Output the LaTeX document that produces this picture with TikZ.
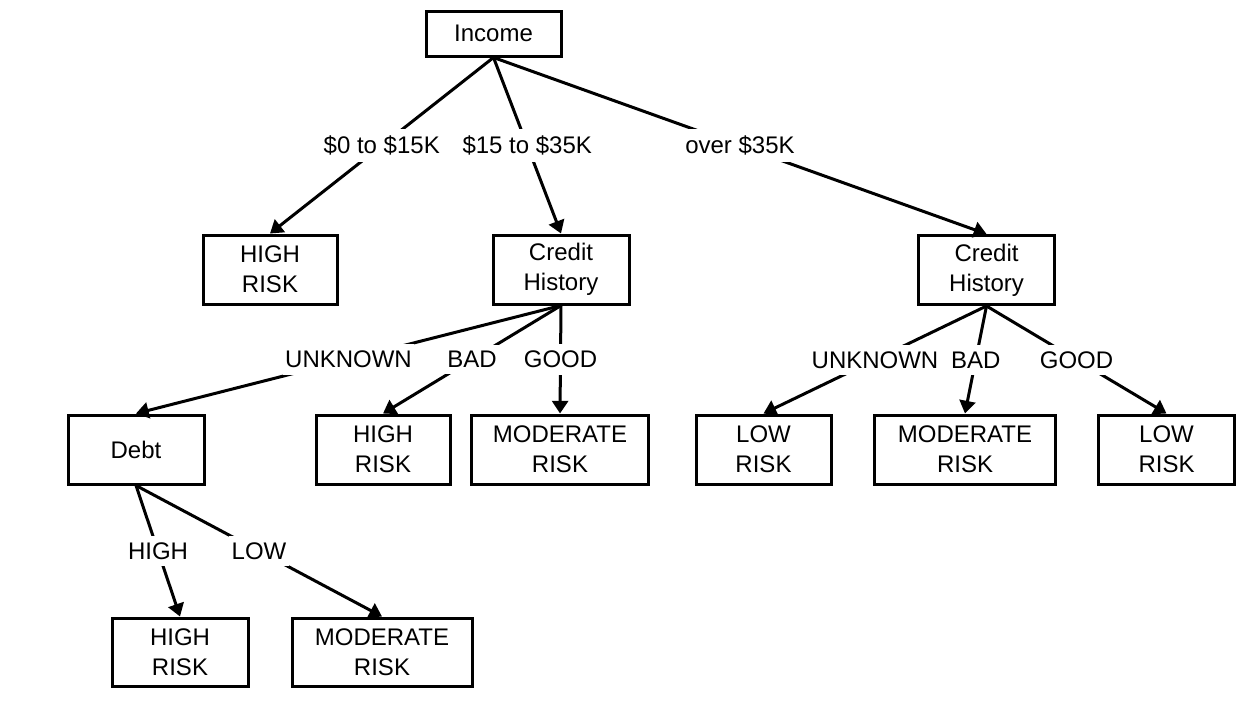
\documentclass[tikz,border=0pt]{standalone}
\usepackage{fontspec}
\setmainfont{Liberation Sans}
\usetikzlibrary{arrows.meta}
\begin{document}
\begin{tikzpicture}[x=0.75pt,y=-0.75pt,
  every node/.style={font=\fontsize{18}{22.5}\selectfont},
  box/.style={draw=black,line width=2.25pt,rectangle,inner sep=0pt,align=center,
    minimum height=51.75pt,fill=white},
  branch/.style={line width=2.25pt,-{Triangle[length=9.5pt,width=12pt]}},
  lab/.style={midway,fill=white,inner xsep=2pt,inner ysep=5pt}]
% canvas
\useasboundingbox[fill=white] (0,0) rectangle (1243,704);

% decision and leaf nodes
\node[box,minimum width=101.25pt,minimum height=33.75pt] (inc) at (493.5,33.5) {Income};
\node[box,minimum width=100.5pt] (hr1) at (270,269.5) {HIGH\\RISK};
\node[box,minimum width=102pt] (ch1) at (561,269.5) {Credit\\History};
\node[box,minimum width=102pt] (ch2) at (986.5,270) {Credit\\History};
\node[box,minimum width=102pt] (debt) at (136,449.5) {Debt};
\node[box,minimum width=100.5pt] (hr2) at (383,449.5) {HIGH\\RISK};
\node[box,minimum width=133pt] (mr1) at (560,449.5) {MODERATE\\RISK};
\node[box,minimum width=101.25pt] (lr1) at (763.5,449.5) {LOW\\RISK};
\node[box,minimum width=135.75pt] (mr2) at (965,449.5) {MODERATE\\RISK};
\node[box,minimum width=102pt] (lr2) at (1166.5,449.5) {LOW\\RISK};
\node[box,minimum width=102pt,minimum height=51pt] (hr3) at (180,652) {HIGH\\RISK};
\node[box,minimum width=135pt,minimum height=51pt] (mr3) at (382,652) {MODERATE\\RISK};

% income branches
\draw[branch] (inc.south) -- (hr1.north) node[lab] {\$0 to \$15K};
\draw[branch] (inc.south) -- (ch1.north) node[lab] {\$15 to \$35K};
\draw[branch] (inc.south) -- (ch2.north) node[lab] {over \$35K};

% credit history branches, middle income
\draw[branch] (ch1.south) -- (debt.north) node[lab] {UNKNOWN};
\draw[branch] (ch1.south) -- (hr2.north) node[lab] {BAD};
\draw[branch] (ch1.south) -- (mr1.north) node[lab] {GOOD};

% credit history branches, high income
\draw[branch] (ch2.south) -- (lr1.north) node[lab] {UNKNOWN};
\draw[branch] (ch2.south) -- (mr2.north) node[lab] {BAD};
\draw[branch] (ch2.south) -- (lr2.north) node[lab] {GOOD};

% debt branches
\draw[branch] (debt.south) -- (hr3.north) node[lab] {HIGH};
\draw[branch] (debt.south) -- (mr3.north) node[lab] {LOW};
\end{tikzpicture}
\end{document}
